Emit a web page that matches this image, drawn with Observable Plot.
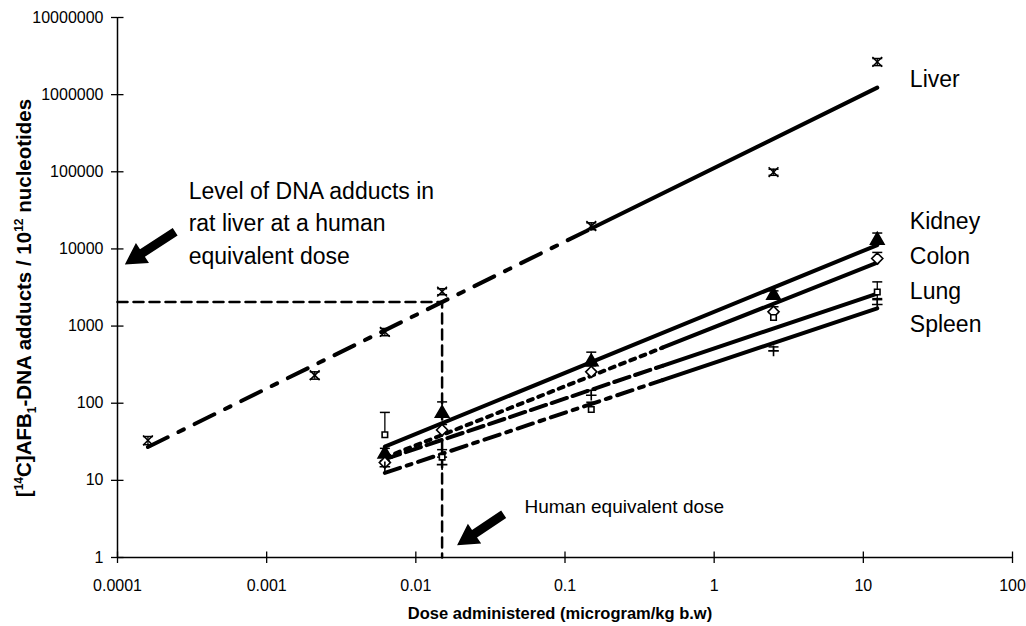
<!DOCTYPE html>
<html><head><meta charset="utf-8">
<script src="https://cdn.jsdelivr.net/npm/d3@7"></script>
<script src="https://cdn.jsdelivr.net/npm/@observablehq/plot@0.6"></script>
<style>
html,body{margin:0;padding:0;background:#fff;}
#chart{width:1026px;height:626px;}
</style></head><body><div id="chart"></div>
<script>
// ---------- data ----------
const liverDoses = [0.00016, 0.0021, 0.0062, 0.015, 0.15, 2.5, 12.4];
const organDoses = [0.0062, 0.015, 0.15, 2.5, 12.4];
const liver  = [33, 230, 840, 2800, 19800, 99000, 2660000];
const liverUp = [4, 25, 90, 250, 2000, 9000, 280000];
const liverDown = [4, 25, 90, 250, 2000, 9000, 280000];
const kidney = [22, 74, 343, 2510, 12970];
const kidneyUp = [4, 30, 116, 350, 3100];
const colon  = [17, 45, 255, 1530, 7510];
const colonUp = [3, 8, 50, 250, 1500];
const lung   = [39, 20, 83, 1290, 2770];
const lungUp = [37, 5, 20, 200, 970];
const lungDown = [0, 0, 0, 0, 500];
const spleen = [15, 16, 127, 477, 1900];
const spleenUp = [3, 4, 20, 60, 300];
const zeros = [0, 0, 0, 0, 0];
const xTicks = [0.0001, 0.001, 0.01, 0.1, 1, 10, 100];
const yTicks = [1, 10, 100, 1000, 10000, 100000, 1000000, 10000000];
const humanDose = 0.015;
const seriesNames = ["Liver", "Kidney", "Colon", "Lung", "Spleen"];
const labelDose = 20.5;
const labelLevels = [1550000, 22400, 8050, 2830, 1030];
const noteText = "Level of DNA adducts in\nrat liver at a human\nequivalent dose";
const noteAt = [0.0003, 90000];
const humanText = "Human equivalent dose";
const humanAt = [0.0535, 4.5];
const arrowTips = [[0.000112, 6300], [0.0189, 1.44]];
// where the dash pattern of each trend line gives way to a solid stroke
const solidFrom = [0.15, 0.0062, 0.45, 0.45, 0.45];

// ---------- styles ----------
const styles = [
  {sym: "times", fill: "none", stroke: "black", r: 4.5, dash: "22,12,6,12"},
  {sym: "triangle", fill: "black", stroke: "black", r: 5, dash: null},
  {sym: "diamond2", fill: "white", stroke: "black", r: 5, dash: "5,6"},
  {sym: "square2", fill: "white", stroke: "black", r: 3.5, dash: "16,6"},
  {sym: "plus", fill: "none", stroke: "black", r: 3.5, dash: "16,7,5,7"}
];
const FONT = "'Liberation Sans', Arial, sans-serif";

const series = [
  [liverDoses, liver, liverUp, liverDown],
  [organDoses, kidney, kidneyUp, zeros],
  [organDoses, colon, colonUp, zeros],
  [organDoses, lung, lungUp, lungDown],
  [organDoses, spleen, spleenUp, zeros]
].map(([xs, ys, up, dn], i) => ({name: seriesNames[i], xs, ys, up, dn, st: styles[i], split: solidFrom[i]}));

// least-squares power fit (straight line in log-log space), as the original trendlines
function powerFit(xs, ys) {
  const lx = xs.map(Math.log10), ly = ys.map(Math.log10);
  const mx = d3.mean(lx), my = d3.mean(ly);
  const b = d3.sum(lx, (v, i) => (v - mx) * (ly[i] - my)) / d3.sum(lx, v => (v - mx) ** 2);
  const a = my - b * mx;
  return x => Math.pow(10, a + b * Math.log10(x));
}

const points = [], upBars = [], downBars = [], trendDash = [], trendSolid = [];
series.forEach((s, si) => {
  const f = powerFit(s.xs, s.ys);
  s.f = f;
  const x0 = d3.min(s.xs), x1 = d3.max(s.xs);
  const xm = Math.min(Math.max(s.split, x0), x1);
  if (xm > x0) trendDash.push({si, pts: [[x0, f(x0)], [xm, f(xm)]]});
  trendSolid.push({si, pts: [[xm, f(xm)], [x1, f(x1)]]});
  s.xs.forEach((x, i) => {
    points.push({si, x, y: s.ys[i]});
    if (s.up[i] > 0) upBars.push({x, a: s.ys[i], b: s.ys[i] + s.up[i]});
    if (s.dn[i] > 0) downBars.push({x, a: s.ys[i], b: Math.max(s.ys[i] - s.dn[i], 1.01)});
  });
});
const bars = upBars.concat(downBars);
const level = series[0].f(humanDose);

// custom symbols
const hTick = {draw(c) { c.moveTo(0, 0); c.lineTo(6, 0); }};
const vTick = {draw(c) { c.moveTo(0, 0); c.lineTo(0, -6); }};
const cap = {draw(c) { c.moveTo(-5, 0); c.lineTo(5, 0); }};
function blockArrow(len, angleDeg, shaftW, headW, headL) {
  const a = angleDeg * Math.PI / 180, ux = Math.cos(a), uy = Math.sin(a), nx = -uy, ny = ux;
  const p = (t, w) => [ux * t + nx * w, uy * t + ny * w];
  const pts = [[0, 0], p(headL, headW / 2), p(headL, shaftW / 2), p(len, shaftW / 2),
               p(len, -shaftW / 2), p(headL, -shaftW / 2), p(headL, -headW / 2)];
  return {draw(c) { c.moveTo(...pts[0]); pts.slice(1).forEach(q => c.lineTo(...q)); c.closePath(); }};
}
const arrowShapes = [blockArrow(60, -33, 9, 24, 21), blockArrow(56, -33.7, 9, 24, 21)];

const marks = [
  // axes
  Plot.ruleX([1e-4], {y1: 1, y2: 1e7, stroke: "black", strokeWidth: 1.5}),
  Plot.ruleY([1], {x1: 1e-4, x2: 100, stroke: "black", strokeWidth: 1.5}),
  Plot.axisY({ticks: yTicks, tickFormat: d => String(d), tickSize: 6, tickPadding: 8, fontSize: 16, label: null, stroke: "black", strokeWidth: 1.3, color: "black"}),
  Plot.axisX({ticks: xTicks, tickFormat: d => String(d), tickSize: 6, tickPadding: 16, fontSize: 16, label: null, stroke: "black", strokeWidth: 1.3, color: "black"}),
  Plot.dot(yTicks, {x: () => 1e-4, y: d => d, symbol: hTick, stroke: "black", strokeWidth: 1.3}),
  Plot.dot(xTicks, {x: d => d, y: () => 1, symbol: vTick, stroke: "black", strokeWidth: 1.3}),
  // human-equivalent guide
  Plot.line([[1e-4, level], [humanDose, level], [humanDose, 1]], {stroke: "black", strokeWidth: 2.5, strokeDasharray: "10,6"}),
  // trend lines
  ...trendDash.map(t => Plot.line(t.pts, {stroke: "black", strokeWidth: 4, strokeDasharray: styles[t.si].dash || "none"})),
  ...trendSolid.map(t => Plot.line(t.pts, {stroke: "black", strokeWidth: 4})),
  // error bars
  Plot.ruleX(bars, {x: "x", y1: "a", y2: "b", stroke: "black", strokeWidth: 1.3}),
  Plot.dot(bars, {x: "x", y: "b", symbol: cap, stroke: "black", strokeWidth: 1.5}),
  // markers
  ...styles.map((st, si) => Plot.dot(points.filter(p => p.si === si), {
    x: "x", y: "y", symbol: st.sym, r: st.r, fill: st.fill, stroke: st.stroke, strokeWidth: 1.6
  })),
  // series labels
  Plot.text(seriesNames, {x: () => labelDose, y: (d, i) => labelLevels[i], text: d => d, textAnchor: "start", fontSize: 23, fill: "black"}),
  // annotations
  Plot.text([noteText], {x: () => noteAt[0], y: () => noteAt[1], text: d => d, textAnchor: "start", lineAnchor: "top", lineHeight: 1.42, fontSize: 23, fill: "black"}),
  Plot.text([humanText], {x: () => humanAt[0], y: () => humanAt[1], text: d => d, textAnchor: "start", fontSize: 19, fill: "black"}),
  ...arrowTips.map((t, i) => Plot.dot([t], {x: d => d[0], y: d => d[1], symbol: arrowShapes[i], fill: "black", stroke: "none"})),
  // x title
  Plot.text(["Dose administered (microgram/kg b.w)"], {frameAnchor: "bottom", dy: 61, dx: -5, text: d => d, fontWeight: "bold", fontSize: 16.5, fill: "black"})
];

const plot = Plot.plot({
  width: 1026, height: 626,
  marginLeft: 117, marginRight: 14, marginTop: 17, marginBottom: 69,
  style: {fontFamily: FONT, fontSize: "16px", color: "black", background: "white"},
  x: {type: "log", domain: [1e-4, 100], axis: null},
  y: {type: "log", domain: [1, 1e7], axis: null},
  marks
});

// y title with real superscript / subscript text
const yt = d3.select(plot).append("text")
  .attr("transform", "translate(31,298) rotate(-90)")
  .attr("text-anchor", "middle").attr("font-weight", "bold").attr("font-size", 20.5)
  .attr("font-family", FONT).attr("fill", "black");
yt.append("tspan").text("[");
yt.append("tspan").attr("font-size", 12).attr("dy", -8).text("14");
yt.append("tspan").attr("dy", 8).text("C]AFB");
yt.append("tspan").attr("font-size", 12).attr("dy", 5).text("1");
yt.append("tspan").attr("dy", -5).text("-DNA adducts / 10");
yt.append("tspan").attr("font-size", 12).attr("dy", -8).text("12");
yt.append("tspan").attr("dy", 8).text(" nucleotides");

document.getElementById("chart").appendChild(plot);
</script></body></html>
